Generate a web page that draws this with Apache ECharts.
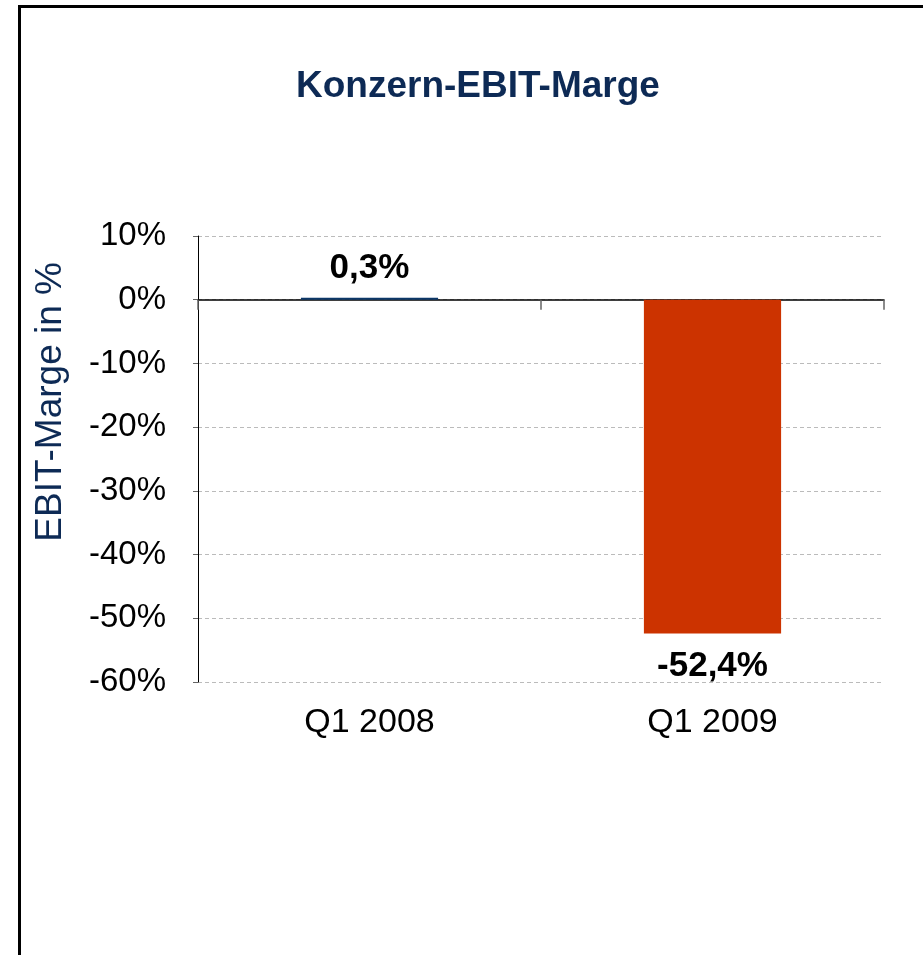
<!DOCTYPE html>
<html>
<head>
<meta charset="utf-8">
<script src="https://cdn.jsdelivr.net/npm/echarts@6/dist/echarts.min.js"></script>
<style>
  html, body { margin: 0; padding: 0; background: #fff; }
  #chart { width: 923px; height: 955px; }
</style>
</head>
<body>
<div id="chart"></div>
<script>
// values
const categories = ["Q1 2008", "Q1 2009"];
const margins = [0.3, -52.4];
const labels = ["0,3%", "-52,4%"];
const barColors = ["#0b3768", "#cc3300"];

const navy = "#0d2a55";
const font = "Liberation Sans, Arial, sans-serif";

let myChart = echarts.init(document.getElementById("chart"), null, { renderer: "canvas" });

let option = {
  animation: false,
  backgroundColor: "#fff",
  title: {
    text: "Konzern-EBIT-Marge",
    left: 291,
    top: 63,
    textStyle: { fontFamily: font, fontSize: 37, fontWeight: "bold", color: navy }
  },
  grid: { left: 198, right: 39, top: 236, bottom: 273 },
  xAxis: [
    {
      type: "category",
      data: categories,
      axisLine: { onZero: true, lineStyle: { color: "#000", width: 1.5 } },
      axisTick: { show: true, length: 10, lineStyle: { color: "#666", width: 1.5 } },
      axisLabel: { show: false }
    },
    {
      type: "category",
      data: categories,
      position: "bottom",
      axisLine: { show: false, onZero: false },
      axisTick: { show: false },
      axisLabel: { margin: 24, fontFamily: font, fontSize: 34, color: "#000" }
    }
  ],
  yAxis: {
    type: "value",
    min: -60,
    max: 10,
    interval: 10,
    axisLine: { show: true, lineStyle: { color: "#000", width: 1 } },
    axisTick: { show: true, length: 5, lineStyle: { color: "#666" } },
    axisLabel: {
      margin: 32,
      fontFamily: font,
      fontSize: 33,
      color: "#000",
      formatter: "{value}%"
    },
    splitLine: { show: true, lineStyle: { color: "#bbb", type: [4, 3], width: 1 } }
  },
  series: [
    {
      type: "bar",
      xAxisIndex: 0,
      barWidth: "40%",
      data: margins.map(function (v, i) {
        return {
          value: v,
          itemStyle: { color: barColors[i] },
          label: {
            show: true,
            position: v >= 0 ? "top" : "bottom",
            distance: v >= 0 ? 12 : 15,
            formatter: labels[i],
            fontFamily: font,
            fontSize: 35,
            fontWeight: "bold",
            color: "#000"
          }
        };
      })
    }
  ],
  graphic: [
    {
      type: "text",
      left: 32,
      top: 262,
      rotation: Math.PI / 2,
      style: {
        text: "EBIT-Marge in %",
        fontFamily: font,
        fontSize: 37,
        fill: navy
      }
    },
    {
      type: "line",
      shape: { x1: 19.5, y1: 955, x2: 19.5, y2: 6.5 },
      style: { stroke: "#000", lineWidth: 3 }
    },
    {
      type: "line",
      shape: { x1: 18, y1: 6.5, x2: 923, y2: 6.5 },
      style: { stroke: "#000", lineWidth: 3 }
    }
  ]
};

myChart.setOption(option);
window.addEventListener("resize", myChart.resize);
</script>
</body>
</html>
